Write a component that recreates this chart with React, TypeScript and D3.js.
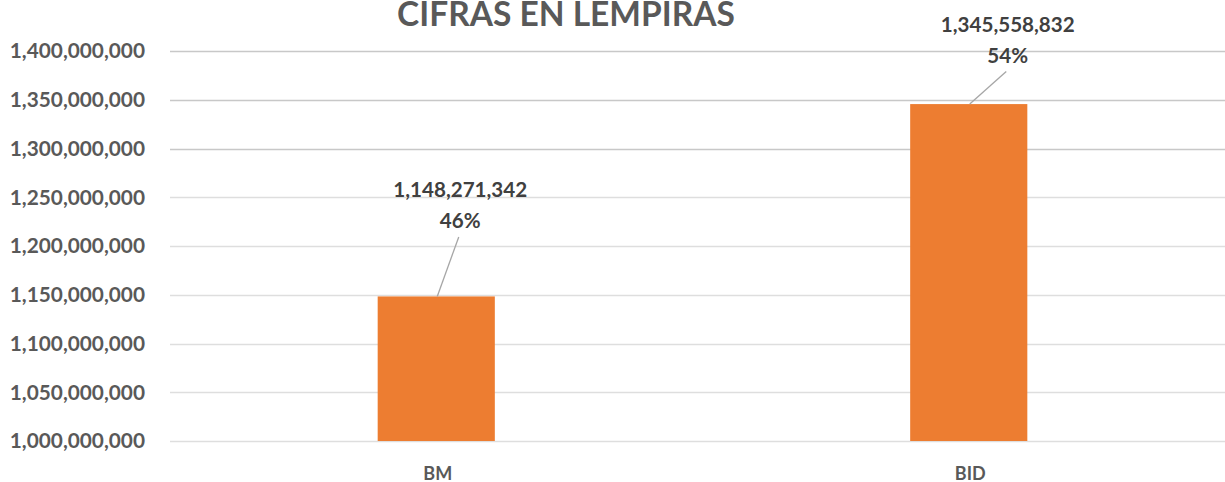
import React from "react";
import * as d3 from "d3";

const categories = ["BM", "BID"];
const values = [1148271342, 1345558832];
const yTicks = [1000000000, 1050000000, 1100000000, 1150000000, 1200000000, 1250000000, 1300000000, 1350000000, 1400000000];
const title = "CIFRAS EN LEMPIRAS";
// label placement offsets (layout config): dx from bar center, dy of value baseline from bar top
const labelDx = [24, 39];
const labelDy = [-99.5, -72.5];

const W = 1225;
const H = 482;
const FONT = "Lato, 'Open Sans', sans-serif";

export default function App() {
  const y = d3.scaleLinear().domain([1000000000, 1400000000]).range([441, 51]);
  const x = d3
    .scaleBand<string>()
    .domain(categories)
    .range([170, 1235])
    .paddingInner(0.78)
    .paddingOuter(0.39);
  const fmt = d3.format(",");
  const total = d3.sum(values);
  const pct = d3.format(".0%");

  return (
    <svg
      width={W}
      height={H}
      style={{ position: "absolute", left: 0, top: 0, background: "#fff" }}
      fontFamily={FONT}
    >
      <text
        x={566}
        y={25.5}
        textAnchor="middle"
        fontSize={33.5}
        fontWeight={700}
        fill="#595959"
      >
        {title}
      </text>
      {yTicks.map((t) => (
        <g key={t}>
          <line
            x1={170}
            x2={1225}
            y1={Math.round(y(t)) + 0.5}
            y2={Math.round(y(t)) + 0.5}
            stroke={t >= 1300000000 ? "#c8c8c8" : "#dedede"}
            strokeWidth={1.5}
          />
          <text
            x={145}
            y={y(t)}
            dy="0.35em"
            textAnchor="end"
            fontSize={20.8}
            fontWeight={700}
            fill="#595959"
          >
            {fmt(t)}
          </text>
        </g>
      ))}
      {categories.map((c, i) => {
        const x0 = x(c)!;
        const bw = x.bandwidth();
        const cx = x0 + bw / 2;
        const top = y(values[i]);
        const lx = cx + labelDx[i];
        const vy = top + labelDy[i];
        const py = vy + 31;
        return (
          <g key={c}>
            <rect x={x0} y={top} width={bw} height={y(1000000000) - top} fill="#ED7D31" />
            <line
              x1={lx - 1.5}
              y1={py + 9}
              x2={cx + 1}
              y2={top}
              stroke="#a6a6a6"
              strokeWidth={1.3}
            />
            <text x={lx} y={vy} textAnchor="middle" fontSize={20.6} fontWeight={700} fill="#404040">
              {fmt(values[i])}
            </text>
            <text x={lx} y={py} textAnchor="middle" fontSize={20.6} fontWeight={700} fill="#404040">
              {pct(values[i] / total)}
            </text>
            <text x={cx + 1.5} y={480} textAnchor="middle" fontSize={18} fontWeight={700} fill="#595959">
              {c}
            </text>
          </g>
        );
      })}
    </svg>
  );
}
